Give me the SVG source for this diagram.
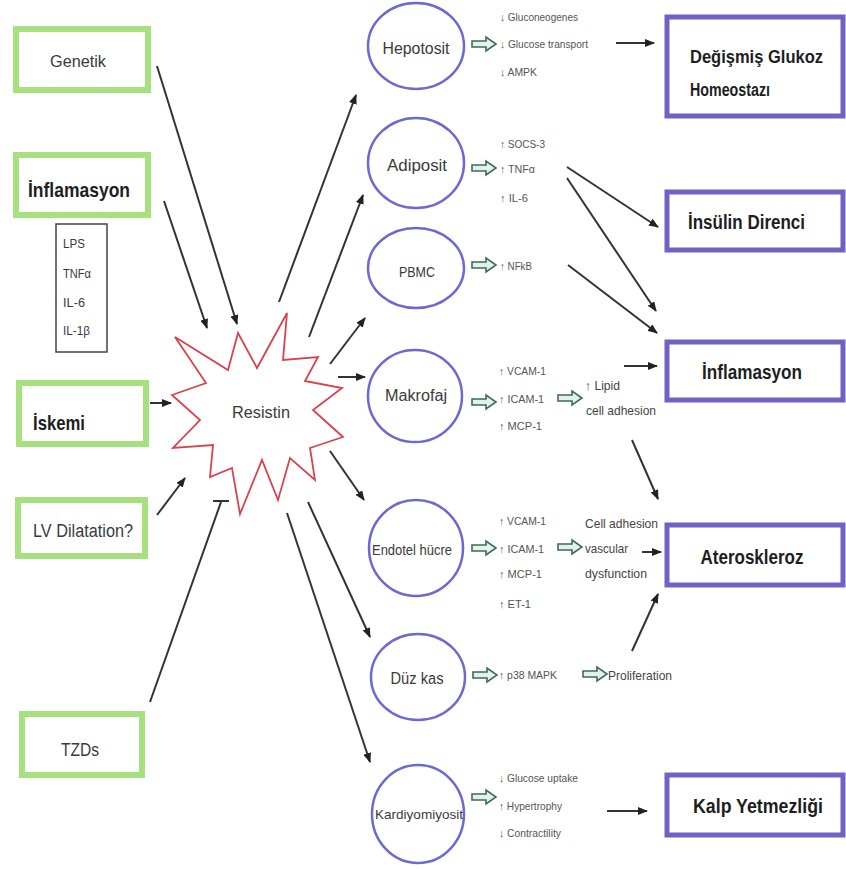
<svg xmlns="http://www.w3.org/2000/svg" xmlns:xlink="http://www.w3.org/1999/xlink" width="846" height="869" viewBox="0 0 846 869">
<style>
.gbox{fill:#fff;stroke:#a6e07f;stroke-width:6}
.pbox{fill:#fff;stroke:#6f62c4;stroke-width:5}
.ell{fill:#fff;stroke:#6a6ad0;stroke-width:2.5}
.lbl{font-family:"Liberation Sans",Arial,sans-serif;fill:#3a3a3a}
.big{font-family:"Liberation Sans",Arial,sans-serif;font-weight:bold;fill:#1e1e1e}
.sm{font-family:"Liberation Sans","DejaVu Sans",Arial,sans-serif;font-size:11px;fill:#555}
.md{font-family:"Liberation Sans",Arial,sans-serif;font-size:13px;fill:#444}
.con{stroke:#333;stroke-width:2;fill:none}
.ha{fill:#e2f2e8;stroke:#3d6b5c;stroke-width:1.6}
</style>
<defs>
<marker id="ah" viewBox="0 0 10 8" refX="9" refY="4" markerWidth="10" markerHeight="8" markerUnits="userSpaceOnUse" orient="auto">
<path d="M0,0 L10,4 L0,8 Z" fill="#222"/>
</marker>
<path id="hollow" class="ha" d="M0,-3 H14 V-7 L24,0 L14,7 V3 H0 Z"/>
</defs>
<rect width="846" height="869" fill="#fff"/>

<g id="connectors">
<line class="con" x1="157" y1="66" x2="237" y2="324" marker-end="url(#ah)"/>
<line class="con" x1="164" y1="201" x2="207" y2="328" marker-end="url(#ah)"/>
<line class="con" x1="150" y1="403" x2="171" y2="403" marker-end="url(#ah)"/>
<line class="con" x1="157" y1="515" x2="185" y2="478" marker-end="url(#ah)"/>
<line class="con" x1="150" y1="702" x2="221" y2="502"/>
<line class="con" x1="213" y1="501" x2="229" y2="501" stroke-width="2.5"/>
<line class="con" x1="279" y1="302" x2="356" y2="95" marker-end="url(#ah)"/>
<line class="con" x1="309" y1="337" x2="363" y2="195" marker-end="url(#ah)"/>
<line class="con" x1="330" y1="364" x2="365" y2="318" marker-end="url(#ah)"/>
<line class="con" x1="338" y1="377" x2="365" y2="377" marker-end="url(#ah)"/>
<line class="con" x1="330" y1="451" x2="364" y2="500" marker-end="url(#ah)"/>
<line class="con" x1="308" y1="502" x2="370" y2="637" marker-end="url(#ah)"/>
<line class="con" x1="287" y1="513" x2="370" y2="762" marker-end="url(#ah)"/>
<line class="con" x1="616" y1="43" x2="654" y2="43" marker-end="url(#ah)"/>
<line class="con" x1="567" y1="167" x2="658" y2="227" marker-end="url(#ah)"/>
<line class="con" x1="567" y1="178" x2="656" y2="311" marker-end="url(#ah)"/>
<line class="con" x1="568" y1="265" x2="657" y2="333" marker-end="url(#ah)"/>
<line class="con" x1="624" y1="366" x2="657" y2="366" marker-end="url(#ah)"/>
<line class="con" x1="632" y1="440" x2="658" y2="499" marker-end="url(#ah)"/>
<line class="con" x1="642" y1="552" x2="661" y2="552" marker-end="url(#ah)"/>
<line class="con" x1="632" y1="651" x2="658" y2="594" marker-end="url(#ah)"/>
<line class="con" x1="607" y1="811" x2="647" y2="811" marker-end="url(#ah)"/>
</g>

<g id="genetik">
<rect class="gbox" x="16" y="29" width="132" height="61"/>
<text class="lbl" x="78" y="67" font-size="17" text-anchor="middle" textLength="56" lengthAdjust="spacingAndGlyphs">Genetik</text>
</g>
<g id="inflamasyon-in">
<rect class="gbox" x="16" y="155" width="132" height="60"/>
<text class="big" x="79" y="197" font-size="21" text-anchor="middle" textLength="102" lengthAdjust="spacingAndGlyphs">İnflamasyon</text>
</g>
<g id="mediators">
<rect x="56" y="224" width="51" height="128" fill="#fff" stroke="#444" stroke-width="1.5"/>
<text class="lbl" x="63" y="248" font-size="13" textLength="22" lengthAdjust="spacingAndGlyphs">LPS</text>
<text class="lbl" x="63" y="278" font-size="13" textLength="28" lengthAdjust="spacingAndGlyphs">TNFα</text>
<text class="lbl" x="63" y="307" font-size="13" textLength="22" lengthAdjust="spacingAndGlyphs">IL-6</text>
<text class="lbl" x="63" y="335" font-size="13" textLength="27" lengthAdjust="spacingAndGlyphs">IL-1β</text>
</g>
<g id="iskemi">
<rect class="gbox" x="19" y="383" width="127" height="61"/>
<text class="big" x="33" y="430" font-size="21" textLength="52" lengthAdjust="spacingAndGlyphs">İskemi</text>
</g>
<g id="lv">
<rect class="gbox" x="18" y="500" width="127" height="56"/>
<text class="lbl" x="83" y="537" font-size="18" text-anchor="middle" textLength="100" lengthAdjust="spacingAndGlyphs">LV Dilatation?</text>
</g>
<g id="tzds">
<rect class="gbox" x="22" y="714" width="120" height="61"/>
<text class="lbl" x="80" y="756" font-size="18" text-anchor="middle" textLength="38" lengthAdjust="spacingAndGlyphs">TZDs</text>
</g>

<g id="resistin">
<polygon points="175,337 228,370 238,333 257,368 287,313 283,360 318,357 305,381 342,388 313,410 343,437 310,448 315,480 290,458 278,500 262,460 240,514 232,468 210,477 213,445 173,448 200,420 172,395 206,383" fill="#fff" stroke="#d9434e" stroke-width="1.8" stroke-linejoin="miter"/>
<text class="lbl" x="261" y="418" font-size="17" text-anchor="middle" textLength="58" lengthAdjust="spacingAndGlyphs">Resistin</text>
</g>

<g id="hepotosit">
<ellipse class="ell" cx="416" cy="46" rx="48" ry="43"/>
<text class="lbl" x="416" y="54" font-size="16" text-anchor="middle" textLength="67" lengthAdjust="spacingAndGlyphs">Hepotosit</text>
<use xlink:href="#hollow" x="472" y="44"/>
<text class="sm" x="500" y="21" textLength="78" lengthAdjust="spacingAndGlyphs">↓ Gluconeogenes</text>
<text class="sm" x="500" y="48" textLength="88" lengthAdjust="spacingAndGlyphs">↓ Glucose transport</text>
<text class="sm" x="500" y="76" textLength="37" lengthAdjust="spacingAndGlyphs">↓ AMPK</text>
</g>
<g id="adiposit">
<ellipse class="ell" cx="416" cy="163" rx="48" ry="45"/>
<text class="lbl" x="417" y="171" font-size="16" text-anchor="middle" textLength="60" lengthAdjust="spacingAndGlyphs">Adiposit</text>
<use xlink:href="#hollow" x="472" y="168"/>
<text class="sm" x="500" y="148" textLength="45" lengthAdjust="spacingAndGlyphs">↑ SOCS-3</text>
<text class="sm" x="500" y="173" textLength="35" lengthAdjust="spacingAndGlyphs">↑ TNFα</text>
<text class="sm" x="500" y="202" textLength="28" lengthAdjust="spacingAndGlyphs">↑ IL-6</text>
</g>
<g id="pbmc">
<ellipse class="ell" cx="416" cy="268" rx="48" ry="40"/>
<text class="lbl" x="417" y="277" font-size="15" text-anchor="middle" textLength="36" lengthAdjust="spacingAndGlyphs">PBMC</text>
<use xlink:href="#hollow" x="472" y="265"/>
<text class="sm" x="500" y="270" textLength="32" lengthAdjust="spacingAndGlyphs">↑ NFkB</text>
</g>
<g id="makrofaj">
<ellipse class="ell" cx="415" cy="396" rx="47" ry="46"/>
<text class="lbl" x="416" y="401" font-size="16" text-anchor="middle" textLength="62" lengthAdjust="spacingAndGlyphs">Makrofaj</text>
<use xlink:href="#hollow" x="472" y="402"/>
<text class="sm" x="499" y="375" textLength="47" lengthAdjust="spacingAndGlyphs">↑ VCAM-1</text>
<text class="sm" x="499" y="403" textLength="45" lengthAdjust="spacingAndGlyphs">↑ ICAM-1</text>
<text class="sm" x="499" y="430" textLength="43" lengthAdjust="spacingAndGlyphs">↑ MCP-1</text>
<use xlink:href="#hollow" x="558" y="398"/>
<text class="md" x="585" y="390" textLength="35" lengthAdjust="spacingAndGlyphs">↑ Lipid</text>
<text class="md" x="586" y="415" textLength="70" lengthAdjust="spacingAndGlyphs">cell adhesion</text>
</g>
<g id="endotel">
<ellipse class="ell" cx="416" cy="548" rx="47" ry="48"/>
<text class="lbl" x="412" y="555" font-size="14" text-anchor="middle" textLength="80" lengthAdjust="spacingAndGlyphs">Endotel hücre</text>
<use xlink:href="#hollow" x="472" y="548"/>
<text class="sm" x="499" y="525" textLength="47" lengthAdjust="spacingAndGlyphs">↑ VCAM-1</text>
<text class="sm" x="499" y="553" textLength="45" lengthAdjust="spacingAndGlyphs">↑ ICAM-1</text>
<text class="sm" x="499" y="578" textLength="43" lengthAdjust="spacingAndGlyphs">↑ MCP-1</text>
<text class="sm" x="499" y="608" textLength="32" lengthAdjust="spacingAndGlyphs">↑ ET-1</text>
<use xlink:href="#hollow" x="558" y="547"/>
<text class="md" x="585" y="528" textLength="73" lengthAdjust="spacingAndGlyphs">Cell adhesion</text>
<text class="md" x="585" y="553" textLength="43" lengthAdjust="spacingAndGlyphs">vascular</text>
<text class="md" x="585" y="578" textLength="62" lengthAdjust="spacingAndGlyphs">dysfunction</text>
</g>
<g id="duzkas">
<ellipse class="ell" cx="418" cy="677" rx="47" ry="43"/>
<text class="lbl" x="417" y="684" font-size="16" text-anchor="middle" textLength="53" lengthAdjust="spacingAndGlyphs">Düz kas</text>
<use xlink:href="#hollow" x="473" y="675"/>
<text class="sm" x="499" y="679" font-size="9.5" textLength="58" lengthAdjust="spacingAndGlyphs">↑ p38 MAPK</text>
<use xlink:href="#hollow" x="583" y="674"/>
<text class="md" x="608" y="680" textLength="64" lengthAdjust="spacingAndGlyphs">Proliferation</text>
</g>
<g id="kardiyomiyosit">
<ellipse class="ell" cx="418" cy="814" rx="46" ry="49"/>
<text class="lbl" x="419" y="819" font-size="13" text-anchor="middle" textLength="88" lengthAdjust="spacingAndGlyphs">Kardiyomiyosit</text>
<use xlink:href="#hollow" x="472" y="797"/>
<text class="sm" x="499" y="782" textLength="79" lengthAdjust="spacingAndGlyphs">↓ Glucose uptake</text>
<text class="sm" x="499" y="810" textLength="63" lengthAdjust="spacingAndGlyphs">↑ Hypertrophy</text>
<text class="sm" x="499" y="837" textLength="62" lengthAdjust="spacingAndGlyphs">↓ Contractility</text>
</g>

<g id="glukoz">
<rect class="pbox" x="667" y="17" width="176" height="99"/>
<text class="big" x="690" y="63" font-size="18" textLength="133" lengthAdjust="spacingAndGlyphs">Değişmiş Glukoz</text>
<text class="big" x="690" y="96" font-size="18" textLength="80" lengthAdjust="spacingAndGlyphs">Homeostazı</text>
</g>
<g id="insulin">
<rect class="pbox" x="667" y="192" width="176" height="58"/>
<text class="big" x="688" y="229" font-size="20" textLength="117" lengthAdjust="spacingAndGlyphs">İnsülin Direnci</text>
</g>
<g id="inflamasyon-out">
<rect class="pbox" x="667" y="342" width="176" height="58"/>
<text class="big" x="752" y="379" font-size="21" text-anchor="middle" textLength="100" lengthAdjust="spacingAndGlyphs">İnflamasyon</text>
</g>
<g id="ateroskleroz">
<rect class="pbox" x="667" y="525" width="176" height="60"/>
<text class="big" x="752" y="564" font-size="20" text-anchor="middle" textLength="103" lengthAdjust="spacingAndGlyphs">Ateroskleroz</text>
</g>
<g id="kalp">
<rect class="pbox" x="667" y="775" width="176" height="60"/>
<text class="big" x="758" y="813" font-size="20" text-anchor="middle" textLength="130" lengthAdjust="spacingAndGlyphs">Kalp Yetmezliği</text>
</g>
</svg>
